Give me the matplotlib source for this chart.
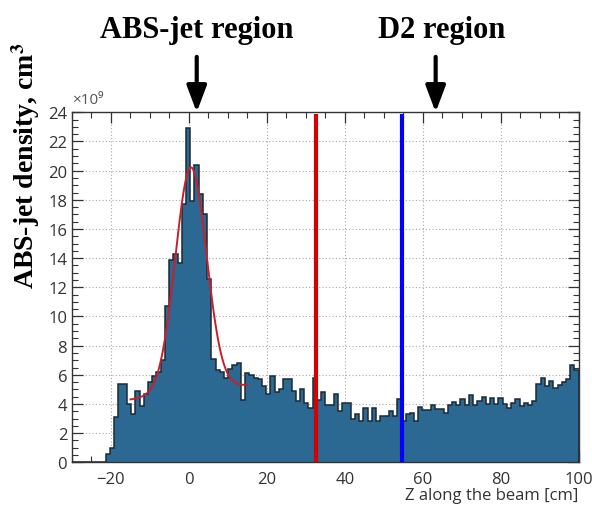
import numpy as np
import matplotlib
matplotlib.use("Agg")
import matplotlib.pyplot as plt
from matplotlib.ticker import MultipleLocator

# histogram: 120 bins from -30 to 100 cm, density in units of 1e9
z_min, z_max = -30.0, 100.0
density = [
    0, 0, 0, 0, 0, 0, 0, 0.05, 0.6, 1.0,
    3.1, 5.4, 5.4, 4.0, 3.3, 4.9, 3.85, 4.7, 5.5, 5.9,
    6.2, 7.0, 10.7, 13.9, 14.3, 13.7, 17.7, 22.9, 17.9, 20.4,
    18.4, 17.0, 12.6, 7.1, 6.3, 6.2, 5.8, 6.4, 6.7, 6.8,
    4.3, 6.1, 6.0, 5.75, 5.7, 5.25, 4.7, 5.9, 4.8, 5.0,
    5.7, 5.7, 4.9, 4.2, 5.0, 4.1, 3.7, 5.8, 4.3, 4.8,
    3.9, 3.9, 4.7, 3.5, 4.05, 4.05, 3.0, 3.3, 2.8, 3.7,
    2.8, 3.7, 2.8, 3.15, 3.15, 3.5, 3.2, 4.35, 2.85, 3.3,
    3.4, 2.85, 3.8, 3.6, 3.6, 3.9, 3.65, 3.65, 3.4, 3.9,
    4.15, 3.9, 4.35, 3.95, 4.6, 3.9, 4.2, 4.5, 4.0, 4.4,
    4.0, 4.4, 4.0, 3.7, 4.1, 4.35, 3.85, 4.1, 3.95, 4.2,
    5.4, 5.8, 5.2, 5.6, 5.1, 5.3, 5.5, 5.7, 6.7, 6.3,
]

# gaussian + linear background fit, drawn over [-15, 15]
fit_amp, fit_mean, fit_sigma = 15.4, 0.5, 4.0
fit_bg0, fit_bg1 = 4.8, 0.033
fit_range = (-15.0, 15.0)

# region markers
red_line_z = 32.5
blue_line_z = 54.6
abs_arrow_z = 2.0
d2_arrow_z = 63.3

BAR = "#2b6892"
EDGE = "#1b2a35"
SANS = ["Open Sans", "DejaVu Sans"]
SERIF = "Liberation Serif"

plt.rcParams["mathtext.fontset"] = "stix"

fig = plt.figure(figsize=(5.92, 5.10), dpi=100)
ax = fig.add_axes([72 / 592, 1 - 463.3 / 510, 506.7 / 592, 350 / 510])

edges = np.linspace(z_min, z_max, len(density) + 1)
ax.stairs(density, edges, fill=True, color=BAR, zorder=2)
ax.stairs(density, edges, color=EDGE, lw=1.1, zorder=3)

zf = np.linspace(*fit_range, 300)
yf = fit_bg0 + fit_bg1 * zf + fit_amp * np.exp(-0.5 * ((zf - fit_mean) / fit_sigma) ** 2)
ax.plot(zf, yf, color="#c8202a", lw=1.4, zorder=4)

ax.plot([red_line_z, red_line_z], [0, 23.85], color="#d40000", lw=3.0, zorder=5,
        solid_capstyle="butt")
ax.plot([blue_line_z, blue_line_z], [0, 23.85], color="#0000ff", lw=3.0, zorder=5,
        solid_capstyle="butt")

ax.set_xlim(z_min, z_max)
ax.set_ylim(0, 24)
ax.xaxis.set_major_locator(MultipleLocator(20))
ax.xaxis.set_minor_locator(MultipleLocator(5))
ax.yaxis.set_major_locator(MultipleLocator(2))
ax.yaxis.set_minor_locator(MultipleLocator(0.5))
ax.tick_params(which="both", direction="in", top=True, right=True, colors="#333333",
               labelsize=12)
ax.tick_params(which="major", length=8, width=0.9)
ax.tick_params(which="minor", length=4, width=0.8)
ax.tick_params(axis="x", pad=6)
for lab in ax.get_xticklabels() + ax.get_yticklabels():
    lab.set_family(SANS)
ax.grid(True, which="major", linestyle=(0, (1, 2)), color="#a8a8a8", lw=0.8, zorder=1)
for s in ax.spines.values():
    s.set_color("#333333")
    s.set_linewidth(1.0)

ax.set_xlabel("Z along the beam [cm]", loc="right", fontsize=12, family=SANS,
              color="#333333", labelpad=0)
fig.text(72 / 592, 1 - 101 / 510, "×10⁹", fontsize=11, family=SANS, color="#555555",
         va="center")

fig.text(26 / 592, 1 - 166 / 510, r"ABS-jet density, cm$^\mathbf{3}$", rotation=90,
         ha="center", va="center", fontsize=20, family=SERIF, weight="bold")
fig.text(197 / 592, 1 - 38 / 510, "ABS-jet region", ha="center", va="baseline",
         fontsize=22, family=SERIF, weight="bold")
fig.text(442 / 592, 1 - 38 / 510, "D2 region", ha="center", va="baseline",
         fontsize=22, family=SERIF, weight="bold")

arrow = dict(arrowstyle="-|>,head_length=0.8,head_width=0.3", lw=3.0, color="black",
             mutation_scale=20, shrinkA=0, shrinkB=0)
for zx in (abs_arrow_z, d2_arrow_z):
    ax.annotate("", xy=(zx, 24.0), xytext=(zx, 27.8), xycoords="data",
                arrowprops=arrow, annotation_clip=False)

fig.savefig("out.png", dpi=100)
